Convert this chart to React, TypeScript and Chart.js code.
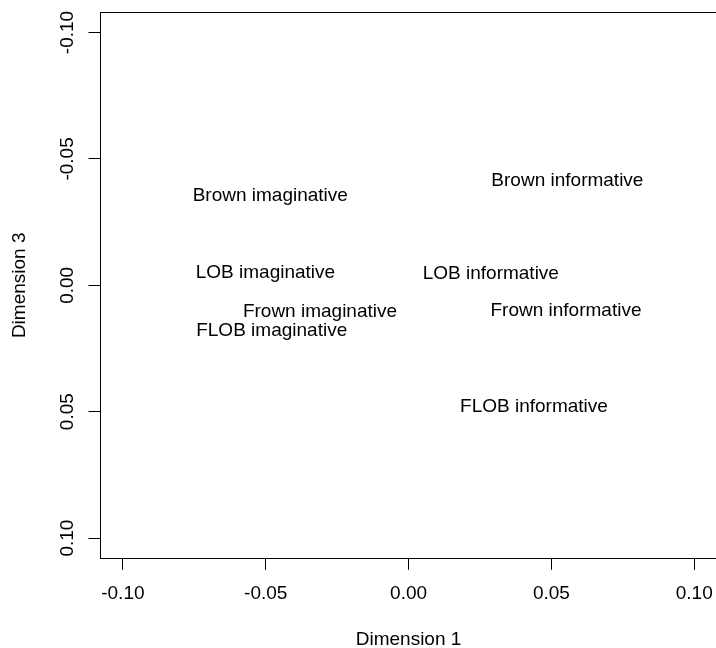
import React, { useEffect, useRef } from "react";
import { Chart, registerables } from "chart.js";

Chart.register(...registerables);

// Multidimensional scaling: corpus × register positions on dimensions 1 and 3
const labels = [
  "Brown imaginative",
  "LOB imaginative",
  "Frown imaginative",
  "FLOB imaginative",
  "Brown informative",
  "LOB informative",
  "Frown informative",
  "FLOB informative",
];
const dim1 = [-0.0484, -0.0501, -0.031, -0.0479, 0.0556, 0.0288, 0.0551, 0.0439];
const dim3 = [-0.0359, -0.0055, 0.01, 0.0175, -0.0419, -0.0051, 0.0095, 0.0476];

const tickValues = [-0.1, -0.05, 0, 0.05, 0.1];
const tickLabels = ["-0.10", "-0.05", "0.00", "0.05", "0.10"];
const axisMin = -0.108;
const axisMax = 0.108;

const FONT_SIZE = 19;
const FONT = `${FONT_SIZE}px "Liberation Sans", Arial, Helvetica, sans-serif`;
const CAP = 0.716 * FONT_SIZE;

const CANVAS_W = 740;
const CANVAS_H = 648;

const textPlugin = {
  id: "mdsText",
  afterDatasetsDraw(chart: any) {
    const ctx: CanvasRenderingContext2D = chart.ctx;
    const meta = chart.getDatasetMeta(0);
    ctx.save();
    ctx.fillStyle = "#000";
    ctx.font = FONT;
    ctx.textAlign = "center";
    ctx.textBaseline = "alphabetic";
    meta.data.forEach((pt: any, i: number) => {
      ctx.fillText(labels[i], pt.x, pt.y + CAP / 2);
    });
    ctx.restore();
  },
  afterDraw(chart: any) {
    const ctx: CanvasRenderingContext2D = chart.ctx;
    const { left, top, right, bottom } = chart.chartArea;
    const xs = chart.scales.x;
    const ys = chart.scales.y;
    ctx.save();
    // plot box
    ctx.strokeStyle = "#000";
    ctx.lineWidth = 1;
    const l = Math.floor(left) + 0.5;
    const t = Math.floor(top) + 0.5;
    const r = Math.floor(right) + 0.5;
    const b = Math.floor(bottom) + 0.5;
    ctx.strokeRect(l, t, r - l, b - t);

    ctx.fillStyle = "#000";
    ctx.font = FONT;
    ctx.textAlign = "center";
    ctx.textBaseline = "alphabetic";

    // x tick labels and title
    tickValues.forEach((v, i) => {
      ctx.fillText(tickLabels[i], xs.getPixelForValue(v), bottom + 41);
    });
    ctx.fillText("Dimension 1", (left + right) / 2, bottom + 86.7);

    // y tick labels (rotated) and title
    tickValues.forEach((v, i) => {
      ctx.save();
      ctx.translate(left - 27, ys.getPixelForValue(v));
      ctx.rotate(-Math.PI / 2);
      ctx.fillText(tickLabels[i], 0, 0);
      ctx.restore();
    });
    ctx.save();
    ctx.translate(left - 75, (top + bottom) / 2);
    ctx.rotate(-Math.PI / 2);
    ctx.fillText("Dimension 3", 0, 0);
    ctx.restore();

    ctx.restore();
  },
};

const fixedTicks = (scale: any) => {
  scale.ticks = tickValues.map((v) => ({ value: v }));
};

export default function App() {
  const ref = useRef<HTMLCanvasElement | null>(null);

  useEffect(() => {
    if (!ref.current) return;
    const chart = new Chart(ref.current, {
      type: "scatter",
      data: {
        datasets: [
          {
            data: dim1.map((x, i) => ({ x, y: dim3[i] })),
            pointRadius: 0,
            pointHoverRadius: 0,
            showLine: false,
          },
        ],
      },
      options: {
        responsive: false,
        animation: false,
        devicePixelRatio: 1,
        events: [],
        layout: { padding: { left: 0, top: 12.3, right: CANVAS_W - 717.1, bottom: 0 } },
        plugins: { legend: { display: false }, tooltip: { enabled: false } },
        scales: {
          x: {
            type: "linear",
            min: axisMin,
            max: axisMax,
            afterBuildTicks: fixedTicks,
            afterFit: (s: any) => {
              s.height = CANVAS_H - 558.3;
            },
            border: { display: false },
            grid: {
              display: true,
              drawOnChartArea: false,
              drawTicks: true,
              tickLength: 11.5,
              color: "#000",
              tickColor: "#000",
              lineWidth: 1,
            },
            ticks: { display: false },
          },
          y: {
            type: "linear",
            reverse: true,
            min: axisMin,
            max: axisMax,
            afterBuildTicks: fixedTicks,
            afterFit: (s: any) => {
              s.width = 100;
            },
            border: { display: false },
            grid: {
              display: true,
              drawOnChartArea: false,
              drawTicks: true,
              tickLength: 11.5,
              color: "#000",
              tickColor: "#000",
              lineWidth: 1,
            },
            ticks: { display: false },
          },
        },
      },
      plugins: [textPlugin],
    } as any);
    return () => chart.destroy();
  }, []);

  return (
    <div
      style={{
        position: "fixed",
        left: 0,
        top: 0,
        width: 716,
        height: 648,
        overflow: "hidden",
        background: "#fff",
      }}
    >
      <canvas ref={ref} width={CANVAS_W} height={CANVAS_H} style={{ display: "block" }} />
    </div>
  );
}
